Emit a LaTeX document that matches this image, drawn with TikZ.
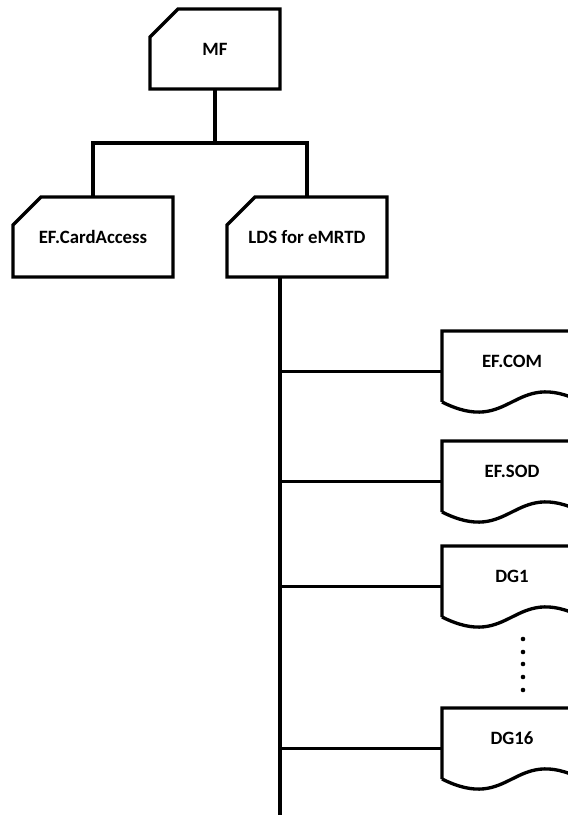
\documentclass[tikz,border=0pt]{standalone}
\usepackage{fontspec}
\setmainfont{Carlito}
\usetikzlibrary{calc}

\begin{document}
\begin{tikzpicture}[x=0.02cm, y=-0.02cm, line width=1.9pt,
    df/.style={minimum width=2.6cm, minimum height=1.6cm, inner sep=0pt, outer sep=0pt,
      font=\bfseries\fontsize{10.7}{12}\selectfont},
    ef/.style={df, minimum width=3.2cm},
    doc/.style={df, minimum width=2.8cm, minimum height=1.22cm}]

\useasboundingbox (0,0) rectangle (568,815);
\clip (0,0) rectangle (568,815);

\node[df] (mf) at (215,49) {MF};
\node[ef] (ca) at (93,237) {EF.CardAccess};
\node[ef] (lds) at (307,237) {LDS for eMRTD};

\node[doc] (com) at (512,361.5) {EF.COM};
\node[doc] (sod) at (512,471.5) {EF.SOD};
\node[doc] (dg1) at (512,576.5) {DG1};
\node[doc] (dg16) at (512,738.5) {DG16};

\foreach \n in {mf,ca,lds}
  \draw ($(\n.north west)+(28,0)$) -- (\n.north east) -- (\n.south east)
    -- (\n.south west) -- ($(\n.north west)+(0,28)$) -- cycle;

\foreach \n in {com,sod,dg1,dg16}
  \draw ($(\n.south west)+(0,10)$) -- (\n.north west) -- (\n.north east)
    -- ($(\n.south east)+(0,10)$)
    .. controls ($(\n.south)+(0,-25)$) and ($(\n.south)+(0,45)$) .. ($(\n.south west)+(0,10)$);

\coordinate (split) at (215,143);
\coordinate (trunkend) at (280,815);

\draw (mf.south) -- (split);
\draw (ca.north) |- (split) -| (lds.north);
\draw ($(lds.south)+(-27,0)$) -- (trunkend);

\foreach \n in {com,sod,dg1,dg16} {
  \path ([yshift=-0.2cm]\n.west) coordinate (\n l);
  \draw (\n l -| trunkend) -- (\n l);
}

\foreach \y in {639,652,664,677,690}
  \fill (523,\y) circle[radius=1.3pt];

\end{tikzpicture}
\end{document}
